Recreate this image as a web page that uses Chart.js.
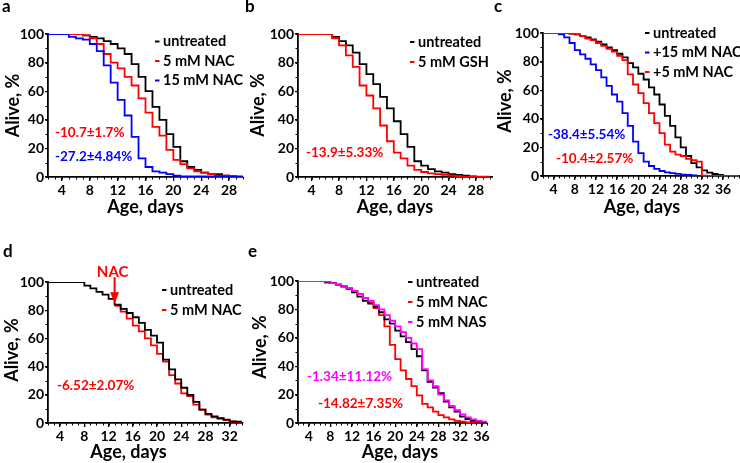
<!DOCTYPE html>
<html><head><meta charset="utf-8">
<script src="https://cdn.jsdelivr.net/npm/chart.js@4.4.1/dist/chart.umd.min.js"></script>
<style>
html,body{margin:0;padding:0;background:#fff}
body{width:740px;height:463px;position:relative;overflow:hidden}
canvas{position:absolute}
</style></head><body>
<canvas id="cA" width="245" height="230" style="left:0px;top:0px"></canvas>
<canvas id="cB" width="248" height="230" style="left:245px;top:0px"></canvas>
<canvas id="cC" width="247" height="230" style="left:493px;top:0px"></canvas>
<canvas id="cD" width="245" height="231" style="left:0px;top:232px"></canvas>
<canvas id="cE" width="248" height="231" style="left:245px;top:232px"></canvas>
<script>
// ---------- data ----------
const yTicks = [0, 20, 40, 60, 80, 100];

// panel a
const daysA = [2,3,4,5,6,7,8,9,10,11,12,13,14,15,16,17,18,19,20,21,22,23,24,25,26,27,28,29,30];
const aUntreated = [100,100,100,100,100,99,98,97,95,93,90,86,79,70,60,49,40,30,21,11,7,5,3,2,2,1,0.5,0,0];
const aNAC5      = [100,100,100,100,100,99,97,93,86,80,76,70,64,55,45,35,29,19,12,9,6,4,3,2,1,1,0.5,0,0];
const aNAC15     = [100,100,100,98,97,96,93,88,78,66,54,43,28,13,7,4,3,2,1,0.5,0.5,0.5,0.5,0.5,0.5,0.5,0.5,0.5,0.5];
const xTicksA = [4,8,12,16,20,24,28];

// panel b
const daysB = [2,3,4,5,6,7,8,9,10,11,12,13,14,15,16,17,18,19,20,21,22,23,24,25,26,27,28,29,30];
const bUntreated = [100,100,100,100,100,98,95,92,87,79,72,65,56,48,39,30,21,11,8,5.5,4,3,2,1.5,1,0.5,0,0,0];
const bGSH5      = [100,100,100,100,100,97,92,85,77,64,57,48,36,25,17,13,8,5,3.5,2.5,2,1.5,1,0.5,0.3,0.3,0.3,0.3,0.3];
const xTicksB = [4,8,12,16,20,24,28];

// panel c
const daysC = [2,3,4,5,6,7,8,9,10,11,12,13,14,15,16,17,18,19,20,21,22,23,24,25,26,27,28,29,30,31,32,33,34,35,36,37,38,39];
const cUntreated = [100,100,100,100,100,99.5,99,98,97,95.5,94,92,90,88,85.5,83,79,76,71.5,67.5,62,57,50,42,35,27,20,14,9,6,4,2.4,1.4,0.7,0,0,0,0];
const cNAC15     = [100,100,100,99,97,93,88,85,82,78,74,69,63,57,52,44,35,24,16,10,7,5,3.5,2.5,2,1.5,1,0.7,0.5,0,0,0,0,0,0,0,0,0];
const cNAC5      = [100,100,100,100,100,99.5,99,98,96,95,93,91,89,87,84,81,71,64,58,51,44,37,30,22,17,15,14,12,11,10,0.3,0,0,0,0,0,0,0];
const xTicksC = [4,8,12,16,20,24,28,32,36];

// panel d
const daysD = [2,3,4,5,6,7,8,9,10,11,12,13,14,15,16,17,18,19,20,21,22,23,24,25,26,27,28,29,30,31,32,33,34];
const dUntreated = [100,100,100,100,100,100,97.5,95.5,93,91,88,84,81,78,75,71,66,62,57,45,38,31,25,20,15,9.5,6.5,4.7,3.5,2.4,1.2,1,1];
const dNAC5      = [null,null,null,null,null,null,null,null,null,null,null,83,79,74,69,65,60,55,49,43.5,34,28,21,19,13,9.5,6,4,3,2,1,0.5,0.5];
const dNACDay = 13;
const xTicksD = [4,8,12,16,20,24,28,32];

// panel e
const daysE = [2,3,4,5,6,7,8,9,10,11,12,13,14,15,16,17,18,19,20,21,22,23,24,25,26,27,28,29,30,31,32,33,34,35,36,37];
const eUntreated = [100,100,100,100,100,99,98.5,97.5,96,94.5,92,89,86,84,82,78,73,70,65,61,57,52,47,37,29,25,21,15,11,8,4.5,2.8,1.5,1,0.7,0.5];
const eNAC5      = [100,100,100,100,100,99,98.5,97.5,96.5,95,93,91,88,85,81,76,68,55,45,37,31,26,19.5,13.5,11,8,5.5,4,2.5,1.5,1,0.5,0.5,0.5,0.5,0.5];
const eNAS5      = [100,100,100,100,100,99.5,98.5,97.5,96.5,95,93,91,88,86,83,80,76,72,68,64,60,56,52,38,30,26,20,16,12,9,6,4,2.5,1.5,1,1];
const xTicksE = [4,8,12,16,20,24,28,32,36];

// ---------- drawing ----------
const BLACK = '#000000', RED = '#ff0000', BLUE = '#0000ff', MAG = '#ff00ff';
const FONT = 'Lato, "Open Sans", sans-serif';
Chart.defaults.font.family = FONT;

const textPlugin = {
  id: 'panelText',
  afterDraw(chart, args, o) {
    const ctx = chart.ctx, ca = chart.chartArea;
    const xs = chart.scales.x, ys = chart.scales.y;
    const ox = o.ox, oy = o.oy;
    ctx.save();
    // minor ticks
    ctx.strokeStyle = '#000'; ctx.lineWidth = 1;
    ctx.beginPath();
    for (let v = Math.ceil(xs.min); v <= xs.max; v++) {
      const px = Math.round(xs.getPixelForValue(v)) + 0.5;
      ctx.moveTo(px, ca.bottom); ctx.lineTo(px, ca.bottom + 2.5);
    }
    for (let v = 0; v <= 100; v += 10) {
      const py = Math.round(ys.getPixelForValue(v)) + 0.5;
      ctx.moveTo(ca.left, py); ctx.lineTo(ca.left - 2.5, py);
    }
    ctx.stroke();
    // panel letter
    ctx.fillStyle = '#000';
    ctx.font = 'bold 17px ' + FONT;
    ctx.textAlign = 'left'; ctx.textBaseline = 'alphabetic';
    ctx.fillText(o.letter[0], o.letter[1] - ox, o.letter[2] - oy);
    // axis titles
    ctx.font = 'bold 18px ' + FONT;
    ctx.textAlign = 'center'; ctx.textBaseline = 'middle';
    ctx.fillText('Age, days', o.xTitle[0] - ox, o.xTitle[1] - oy);
    ctx.save();
    ctx.translate(o.yTitle[0] - ox, o.yTitle[1] - oy);
    ctx.rotate(-Math.PI / 2);
    ctx.fillText('Alive, %', 0, 0);
    ctx.restore();
    // legend
    ctx.font = 'bold 14.5px ' + FONT;
    ctx.textAlign = 'left'; ctx.textBaseline = 'middle';
    o.legend.forEach(it => {
      ctx.strokeStyle = it.color; ctx.lineWidth = 2;
      ctx.beginPath(); ctx.moveTo(o.legX - ox, it.y - oy); ctx.lineTo(o.legX + 4.5 - ox, it.y - oy); ctx.stroke();
      ctx.fillStyle = '#000';
      ctx.fillText(it.text, o.legX + 8 - ox, it.y - oy);
    });
    // annotations
    ctx.font = 'bold 13.5px ' + FONT;
    o.notes.forEach(n => {
      ctx.fillStyle = n.color;
      ctx.fillText(n.text, n.x - ox, n.y - oy);
    });
    // arrow
    if (o.arrow) {
      const ax = xs.getPixelForValue(o.arrow.day);
      const tip = ys.getPixelForValue(o.arrow.value);
      ctx.strokeStyle = RED; ctx.fillStyle = RED; ctx.lineWidth = 2;
      ctx.beginPath(); ctx.moveTo(ax, tip - 26); ctx.lineTo(ax, tip - 9); ctx.stroke();
      ctx.beginPath(); ctx.moveTo(ax - 4.5, tip - 11); ctx.lineTo(ax + 4.5, tip - 11); ctx.lineTo(ax, tip); ctx.closePath(); ctx.fill();
      ctx.font = 'bold 15px ' + FONT;
      ctx.textAlign = 'center';
      ctx.fillText('NAC', ax - 2 , tip - 31);
    }
    ctx.restore();
  }
};

function panel(p) {
  const [L, T, R, B] = p.box;
  const datasets = p.series.map(s => ({
    data: s.days.map((d, i) => ({x: d, y: s.vals[i]})).filter(q => q.y !== null),
    borderColor: s.color, borderWidth: 1.8, pointRadius: 0, stepped: true, fill: false, order: s.order
  }));
  const tickFont = {size: 14, weight: 'bold', family: FONT};
  new Chart(document.getElementById(p.id), {
    type: 'line',
    data: {datasets},
    options: {
      responsive: false, animation: false, events: [],
      layout: {padding: {left: 0, top: T - p.oy, right: p.ox + p.W - R, bottom: (p.oy + p.H) - B - 20}},
      plugins: {legend: {display: false}, tooltip: {enabled: false},
        panelText: {ox: p.ox, oy: p.oy, letter: p.letter, xTitle: p.xTitle, yTitle: p.yTitle,
          legX: p.legX, legend: p.legend, notes: p.notes, arrow: p.arrow}},
      scales: {
        x: {type: 'linear', min: p.xr[0], max: p.xr[1],
          afterFit: s => { s.height = 20; },
          afterBuildTicks: s => { s.ticks = p.xTicks.map(v => ({value: v})); },
          ticks: {autoSkip: false, maxRotation: 0, padding: 1, color: '#000', font: tickFont},
          grid: {drawOnChartArea: false, drawTicks: true, tickLength: 4, color: '#000', lineWidth: 1.3},
          border: {display: true, color: '#000', width: 1.8}},
        y: {type: 'linear', min: 0, max: 100,
          afterFit: s => { s.width = L - p.ox; },
          afterBuildTicks: s => { s.ticks = yTicks.map(v => ({value: v})); },
          ticks: {autoSkip: false, padding: 1, color: '#000', font: tickFont},
          grid: {drawOnChartArea: false, drawTicks: true, tickLength: 3, color: '#000', lineWidth: 1.3},
          border: {display: true, color: '#000', width: 1.8}}
      }
    },
    plugins: [textPlugin]
  });
}

panel({id: 'cA', ox: 0, oy: 0, W: 245, H: 230, box: [48, 34, 243, 177], xr: [2, 30], xTicks: xTicksA,
  series: [
    {days: daysA, vals: aUntreated, color: BLACK, order: 3},
    {days: daysA, vals: aNAC5, color: RED, order: 2},
    {days: daysA, vals: aNAC15, color: BLUE, order: 1}],
  letter: ['a', 2, 12], xTitle: [145.5, 207], yTitle: [13, 105.5], legX: 155,
  legend: [{text: 'untreated', color: BLACK, y: 41.5}, {text: '5 mM NAC', color: RED, y: 61}, {text: '15 mM NAC', color: BLUE, y: 80.5}],
  notes: [{text: '-10.7±1.7%', color: RED, x: 55, y: 133}, {text: '-27.2±4.84%', color: BLUE, x: 55, y: 157}]});

panel({id: 'cB', ox: 245, oy: 0, W: 248, H: 230, box: [298, 34, 493, 177], xr: [2, 30.5], xTicks: xTicksB,
  series: [
    {days: daysB, vals: bUntreated, color: BLACK, order: 2},
    {days: daysB, vals: bGSH5, color: RED, order: 1}],
  letter: ['b', 245, 12], xTitle: [395, 207], yTitle: [258, 105], legX: 410,
  legend: [{text: 'untreated', color: BLACK, y: 42}, {text: '5 mM GSH', color: RED, y: 62}],
  notes: [{text: '-13.9±5.33%', color: RED, x: 306, y: 153}]});

panel({id: 'cC', ox: 493, oy: 0, W: 247, H: 230, box: [543, 33, 740, 176], xr: [2, 39.2], xTicks: xTicksC,
  series: [
    {days: daysC, vals: cUntreated, color: BLACK, order: 3},
    {days: daysC, vals: cNAC15, color: BLUE, order: 2},
    {days: daysC, vals: cNAC5, color: RED, order: 1}],
  letter: ['c', 494, 12], xTitle: [642, 207], yTitle: [505, 101], legX: 645,
  legend: [{text: 'untreated', color: BLACK, y: 33}, {text: '+15 mM NAC', color: BLUE, y: 52.5}, {text: '+5 mM NAC', color: RED, y: 72}],
  notes: [{text: '-38.4±5.54%', color: BLUE, x: 548, y: 135}, {text: '-10.4±2.57%', color: RED, x: 556, y: 159}]});

panel({id: 'cD', ox: 0, oy: 232, W: 245, H: 231, box: [48, 282, 243, 423], xr: [2, 34.2], xTicks: xTicksD,
  series: [
    {days: daysD, vals: dUntreated, color: BLACK, order: 1},
    {days: daysD, vals: dNAC5, color: RED, order: 2}],
  letter: ['d', 3, 257], xTitle: [128.5, 452], yTitle: [12, 350], legX: 162,
  legend: [{text: 'untreated', color: BLACK, y: 290}, {text: '5 mM NAC', color: RED, y: 310}],
  notes: [{text: '-6.52±2.07%', color: RED, x: 57, y: 386}],
  arrow: {day: dNACDay, value: 85}});

panel({id: 'cE', ox: 245, oy: 232, W: 248, H: 231, box: [298, 281, 487, 423], xr: [2, 37], xTicks: xTicksE,
  series: [
    {days: daysE, vals: eUntreated, color: BLACK, order: 2},
    {days: daysE, vals: eNAC5, color: RED, order: 3},
    {days: daysE, vals: eNAS5, color: MAG, order: 1}],
  letter: ['e', 248, 257], xTitle: [400, 452], yTitle: [260, 347], legX: 408,
  legend: [{text: 'untreated', color: BLACK, y: 282}, {text: '5 mM NAC', color: RED, y: 302}, {text: '5 mM NAS', color: MAG, y: 322}],
  notes: [{text: '-1.34±11.12%', color: MAG, x: 307, y: 377}, {text: '-14.82±7.35%', color: RED, x: 318, y: 404}]});
</script>
</body></html>
